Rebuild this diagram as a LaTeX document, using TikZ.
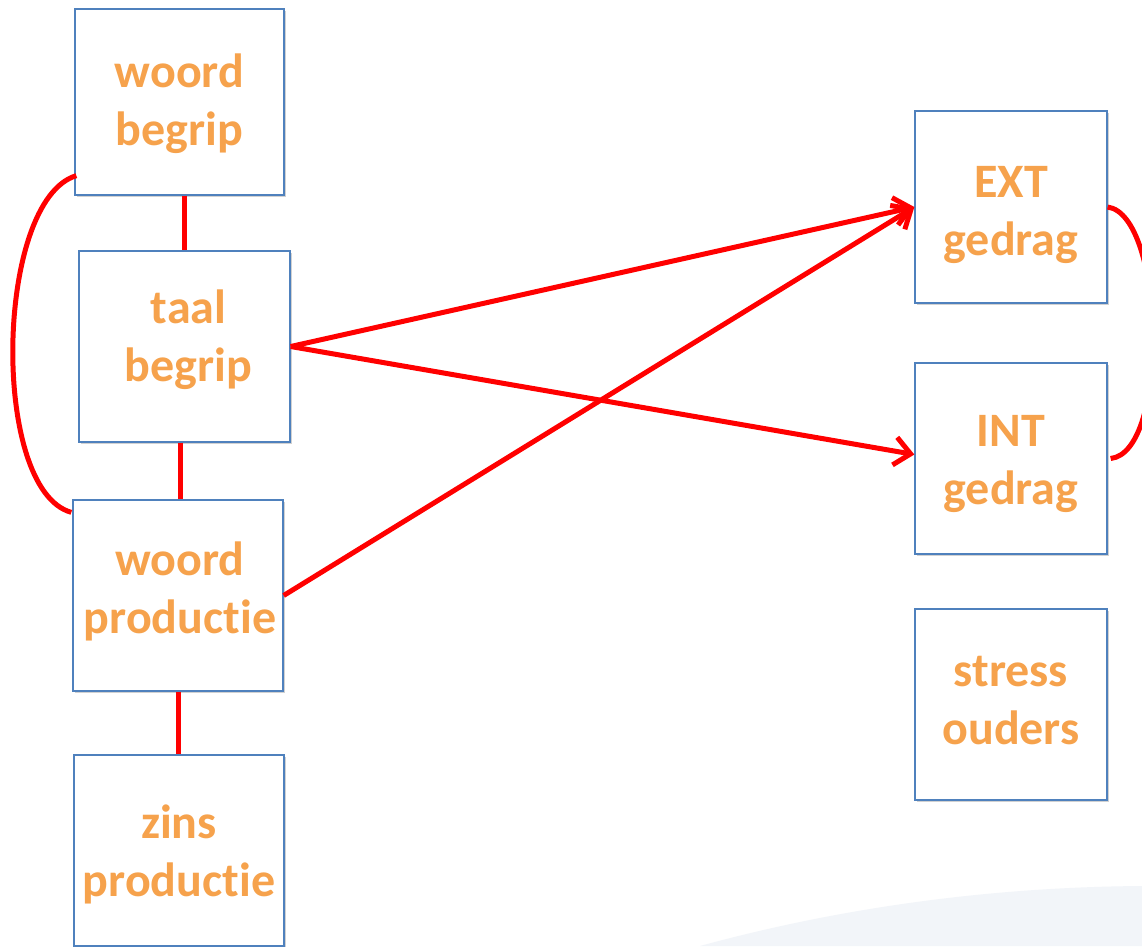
\documentclass[tikz,border=0pt]{standalone}
\usepackage{fontspec}
\setmainfont{Carlito}[Ligatures=NoCommon]
\usetikzlibrary{arrows.meta,shadows,calc}
\definecolor{boxblue}{HTML}{4F81BD}
\definecolor{txtorange}{HTML}{F6A24C}
\definecolor{linkred}{HTML}{FF0000}
\definecolor{wave}{HTML}{F2F5F9}
\tikzset{
  var/.style={draw=boxblue, line width=1.3pt, fill=white, rectangle,
    minimum width=#1, inner sep=0pt,
    drop shadow={shadow xshift=1.5pt, shadow yshift=-2pt, opacity=0.18, fill=black}},
  txt/.style={align=center, text=txtorange, inner sep=0pt,
    font=\fontsize{48}{58}\selectfont\bfseries},
  link/.style={draw=linkred, line width=5pt},
  arr/.style={link, -{Straight Barb[length=16pt,width=28pt,line width=5pt]}},
}
\begin{document}
\begin{tikzpicture}[x=1pt,y=-1pt]
\useasboundingbox (0,0) rectangle (1142,946);
\fill[white] (0,0) rectangle (1142,946);
% faint background wave
\fill[wave] (700,946) .. controls (850,905) and (1000,887) .. (1142,886) -- (1142,946) -- cycle;
\begin{scope}
\clip (0,0) rectangle (1142,946);
% nodes
\node[var=209pt, minimum height=186pt] (wb) at (179.5,102) {};
\node[var=211pt, minimum height=191pt] (tb) at (184.5,346.5) {};
\node[var=210pt, minimum height=191pt] (wp) at (178,595.5) {};
\node[var=210pt, minimum height=191pt] (zp) at (179,850.5) {};
\node[var=192pt, minimum height=192pt] (ext) at (1011,207) {};
\node[var=192pt, minimum height=191pt] (int) at (1011,458.5) {};
\node[var=192pt, minimum height=191pt] (str) at (1011,704.5) {};
\node[txt, yshift=-2pt] (wbt) at (wb.center) {woord\\begrip};
\node[txt, yshift=7pt, xshift=4pt] (tbt) at (tb.center) {taal\\begrip};
\node[txt, yshift=4pt, xshift=2pt] (wpt) at (wp.center) {woord\\productie};
\node[txt, yshift=-4pt] (zpt) at (zp.center) {zins\\productie};
\node[txt, yshift=-8pt] (extt) at (ext.center) {EXT\\gedrag};
\node[txt, yshift=-5pt] (intt) at (int.center) {INT\\gedrag};
\node[txt, yshift=4pt] (strt) at (str.center) {stress\\ouders};
% vertical links
\draw[link] ([xshift=4.5pt]wb.south) -- ([xshift=-0.5pt]tb.north);
\draw[link] ([xshift=-4.5pt]tb.south) -- ([xshift=2pt]wp.north);
\draw[link] (wp.south) -- ([xshift=-1pt]zp.north);
% curved correlations
\coordinate (wbl) at ($(wb.south west)+(2,-20)$);
\coordinate (wpl) at ($(wp.north west)+(-1,13)$);
\draw[link] (wbl) .. controls (-5,200) and (-10,490) .. (wpl);
\coordinate (extr) at (ext.east);
\coordinate (intr) at ($(int.east)+(3,0)$);
\draw[link] (extr) .. controls (1165,215) and (1170,452) .. (intr);
% arrows
\draw[arr] (tb.east) -- (ext.west);
\draw[arr] (tb.east) -- ([yshift=4pt]int.west);
\draw[arr] (wp.east) -- (ext.west);
\end{scope}
\end{tikzpicture}
\end{document}
